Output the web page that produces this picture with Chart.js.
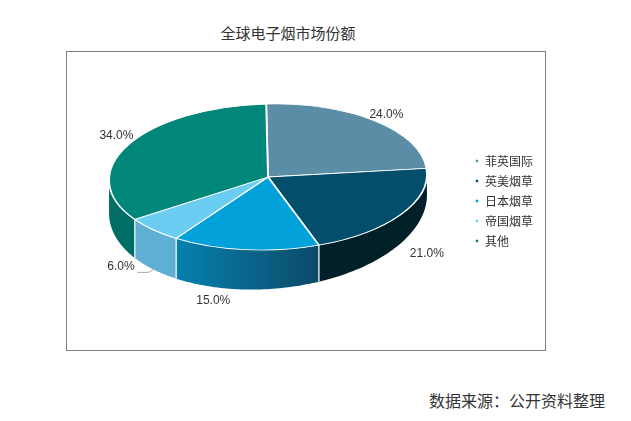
<!DOCTYPE html>
<html><head><meta charset="utf-8">
<script src="https://cdn.jsdelivr.net/npm/chart.js@4.4.0/dist/chart.umd.min.js"></script>
<style>
html,body{margin:0;padding:0;background:#fff;width:631px;height:421px;overflow:hidden;}
#title{position:absolute;left:188px;width:200px;top:22px;text-align:center;font:15px "Noto Sans CJK SC";color:#333;line-height:22px;}
#box{position:absolute;left:66px;top:51px;width:480px;height:300px;border:1px solid #808080;box-sizing:border-box;}
#src{position:absolute;left:400px;top:389px;width:205px;text-align:right;font:16px "Noto Sans CJK SC";color:#333;line-height:22px;}
</style></head><body>
<div id="title">全球电子烟市场份额</div>
<div id="box"><canvas id="c"></canvas></div>
<div id="src">数据来源：公开资料整理</div>
<script>
const categories = ['菲英国际','英美烟草','日本烟草','帝国烟草','其他'];
const shares = [24.0, 21.0, 15.0, 6.0, 34.0];
const topColors = ['#5b8ea6','#034f6b','#03a1d9','#6ccdf3','#00877a'];
const sideColors = ['#3f6a7e','#022029',['#0680b0','#0b4a67'],'#5faed4','#006e64'];

const OX = 67, OY = 52;
const G = {cx: 268 - OX, cy: 177 - OY, rx: 159, ry: 73, rot: -0.025};
function depth(t){ return 27 + 12*Math.sin(t) - 6*Math.cos(t); }
function P(t, ex, ey, dy, noRot){
  const lx = (G.rx + (ex||0))*Math.cos(t), ly = (G.ry + (ey||0))*Math.sin(t);
  const r = noRot ? 0 : G.rot;
  const c = Math.cos(r), s = Math.sin(r);
  return {x: G.cx + lx*c - ly*s, y: G.cy + lx*s + ly*c + (dy||0)};
}

const pie3d = {
  id: 'pie3d',
  beforeDatasetsDraw(chart){
    const ctx = chart.ctx;
    const meta = chart.getDatasetMeta(0);
    meta.data.forEach((arc, i) => {
      const a1 = Math.max(arc.startAngle, 0), a2 = Math.min(arc.endAngle, Math.PI);
      if (a2 <= a1) return;
      const N = 48;
      ctx.beginPath();
      for (let k = 0; k <= N; k++){ const t = a1 + (a2-a1)*k/N; const p = P(t); k ? ctx.lineTo(p.x,p.y) : ctx.moveTo(p.x,p.y); }
      for (let k = N; k >= 0; k--){ const t = a1 + (a2-a1)*k/N; const p = P(t,0,0,depth(t)); ctx.lineTo(p.x,p.y); }
      ctx.closePath();
      const sc = sideColors[i];
      if (Array.isArray(sc)){
        const g = ctx.createLinearGradient(P(a2).x, 0, P(a1).x, 0);
        g.addColorStop(0, sc[0]); g.addColorStop(1, sc[1]);
        ctx.fillStyle = g;
      } else ctx.fillStyle = sc;
      ctx.fill();
      ctx.strokeStyle = '#ffffff'; ctx.lineWidth = 1;
      [arc.startAngle, arc.endAngle].forEach(a => {
        if (a > 0.001 && a < Math.PI - 0.001){
          const p = P(a), q = P(a,0,0,depth(a));
          ctx.beginPath(); ctx.moveTo(p.x,p.y); ctx.lineTo(q.x,q.y); ctx.stroke();
        }
      });
    });
    const a0 = meta.data[0];
    const R = a0.outerRadius;
    ctx.save();
    ctx.translate(G.cx, G.cy);
    ctx.rotate(G.rot);
    ctx.scale(G.rx/R, G.ry/R);
    ctx.translate(-a0.x, -a0.y);
  },
  afterDatasetsDraw(chart){
    const ctx = chart.ctx;
    ctx.restore();
    const meta = chart.getDatasetMeta(0);
    ctx.font = '12px "Liberation Sans", Arial, sans-serif';
    ctx.fillStyle = '#333333';
    ctx.textBaseline = 'middle';
    meta.data.forEach((arc, i) => {
      const mid = (arc.startAngle + arc.endAngle)/2;
      const sn = Math.sin(mid), cs = Math.cos(mid);
      const front = sn > 0;
      const txt = shares[i].toFixed(1) + '%';
      if (shares[i] < 10){
        const e = P(mid, -3, 0, depth(mid) - 1);
        ctx.strokeStyle = '#a8a8a8'; ctx.lineWidth = 1;
        ctx.beginPath(); ctx.moveTo(e.x, e.y); ctx.lineTo(e.x - 7, e.y + 4); ctx.lineTo(e.x - 18, e.y + 4); ctx.stroke();
        ctx.textAlign = 'right';
        ctx.fillText(txt, e.x - 21, e.y - 2);
        return;
      }
      const p = P(mid, 14, 12, front ? depth(mid) : 0, true);
      if (front) p.x += Math.sign(cs) * 28 * sn;
      ctx.textAlign = 'center';
      ctx.fillText(txt, p.x, p.y);
    });
  }
};

new Chart(document.getElementById('c'), {
  type: 'pie',
  data: {
    labels: categories,
    datasets: [{
      data: shares,
      backgroundColor: topColors,
      borderColor: '#ffffff',
      borderWidth: 1.6,
      hoverOffset: 0
    }]
  },
  options: {
    responsive: true,
    maintainAspectRatio: false,
    animation: false,
    events: [],
    layout: {padding: {top: 10, bottom: 10, left: 10, right: 2}},
    plugins: {
      title: {display: false},
      tooltip: {enabled: false},
      legend: {
        position: 'right',
        labels: {
          boxWidth: 4, boxHeight: 4, padding: 8,
          color: '#333333',
          font: {size: 12, family: '"Noto Sans CJK SC"'}
        }
      }
    }
  },
  plugins: [pie3d]
});
</script>
</body></html>
